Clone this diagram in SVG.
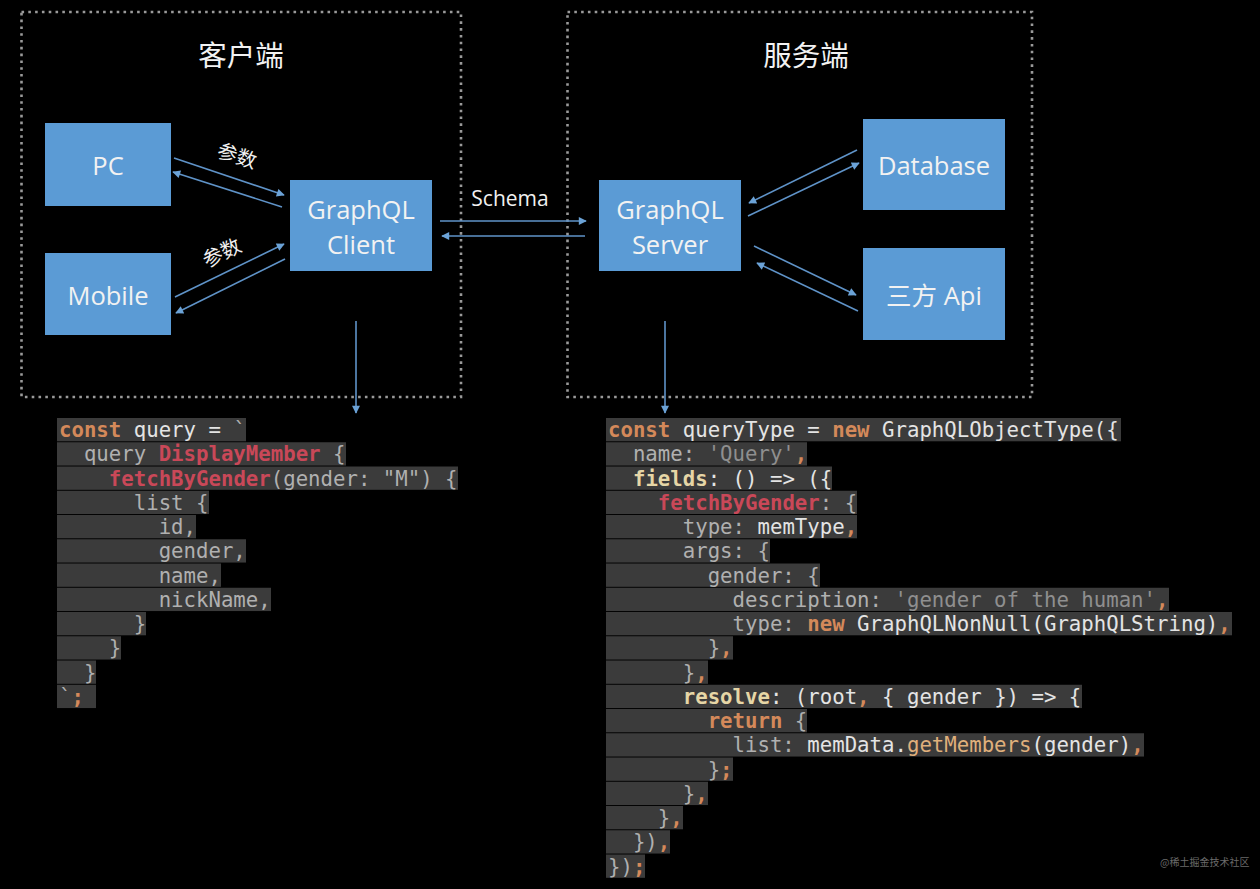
<svg xmlns="http://www.w3.org/2000/svg" width="1260" height="889" viewBox="0 0 1260 889">
<defs>
<style>
.frame{fill:none;stroke:#9a9a9a;stroke-width:2.6;stroke-dasharray:2.6 4.2}
.node rect{fill:#5b9bd5}
.nt{font-family:"Open Sans","Noto Sans","Noto Sans CJK SC",sans-serif;font-size:25.5px;fill:#f2f2f2;text-anchor:middle}
.title{font-family:"Noto Sans CJK SC","Noto Sans",sans-serif;font-size:28.5px;fill:#f2f2f2;text-anchor:middle}
.lbl{font-family:"Open Sans","Noto Sans CJK SC",sans-serif;font-size:21px;fill:#f0f0f0;text-anchor:middle}
.cn{font-family:"Noto Sans CJK SC",sans-serif;font-size:20px;fill:#f0f0f0;text-anchor:middle}
.conn line{stroke:#5f93c8;stroke-width:1.6;fill:none}
.row{fill:#3b3b3b}
.code{font-family:"DejaVu Sans Mono",monospace;font-size:20.7px;fill:#b0b0b0;white-space:pre}
.k{fill:#d4895a;font-weight:bold}
.w{fill:#e4e4e4}
.r{fill:#c94858;font-weight:bold}
.s{fill:#8f8f8f}
.y{fill:#e6d6a6;font-weight:bold}
.o{fill:#e0b07c}
</style>
<marker id="ah" viewBox="0 0 10 10" refX="9" refY="5" markerWidth="10" markerHeight="8" markerUnits="userSpaceOnUse" orient="auto">
<path d="M0,0 L10,5 L0,10 z" fill="#6ba2d6"/>
</marker>
</defs>
<rect x="0" y="0" width="1260" height="889" fill="#000"/>

<g id="client-side">
<rect class="frame" x="21.5" y="12" width="439.5" height="385"/>
<text class="title" x="241" y="66">客户端</text>
</g>
<g id="server-side">
<rect class="frame" x="567.5" y="12" width="464.5" height="385"/>
<text class="title" x="806" y="66">服务端</text>
</g>

<g id="pc" class="node"><rect x="45" y="123" width="126" height="83"/><text class="nt" x="108" y="175">PC</text></g>
<g id="mobile" class="node"><rect x="45" y="253" width="126" height="82"/><text class="nt" x="108" y="305">Mobile</text></g>
<g id="graphql-client" class="node"><rect x="290" y="180" width="142" height="91"/><text class="nt" x="361" y="219">GraphQL</text><text class="nt" x="361" y="254">Client</text></g>
<g id="graphql-server" class="node"><rect x="599" y="180" width="142" height="91"/><text class="nt" x="670" y="219">GraphQL</text><text class="nt" x="670" y="254">Server</text></g>
<g id="database" class="node"><rect x="863" y="119" width="142" height="91"/><text class="nt" x="934" y="175">Database</text></g>
<g id="api" class="node"><rect x="863" y="248" width="142" height="92"/><text class="nt" x="934" y="305">三方 Api</text></g>

<g id="connectors" class="conn">
<line x1="174" y1="158" x2="284" y2="195" marker-end="url(#ah)"/>
<line x1="282" y1="207" x2="173" y2="172" marker-end="url(#ah)"/>
<line x1="175" y1="297" x2="284" y2="244" marker-end="url(#ah)"/>
<line x1="285" y1="259" x2="176" y2="313" marker-end="url(#ah)"/>
<line x1="440" y1="221" x2="586" y2="221" marker-end="url(#ah)"/>
<line x1="585" y1="236" x2="442" y2="236" marker-end="url(#ah)"/>
<line x1="857" y1="150" x2="749" y2="203" marker-end="url(#ah)"/>
<line x1="748" y1="216" x2="859" y2="163" marker-end="url(#ah)"/>
<line x1="754" y1="246" x2="856" y2="295" marker-end="url(#ah)"/>
<line x1="858" y1="311" x2="757" y2="263" marker-end="url(#ah)"/>
<line x1="356" y1="321" x2="356" y2="413" marker-end="url(#ah)"/>
<line x1="665" y1="321" x2="665" y2="413" marker-end="url(#ah)"/>
<text class="cn" x="237" y="163" transform="rotate(18 237 156)">参数</text>
<text class="cn" x="222" y="260" transform="rotate(-26 222 253)">参数</text>
<text class="lbl" x="510" y="206">Schema</text>
</g>

<g id="client-code">
<rect class="row" x="57" y="418" width="189" height="23.3"/>
<rect class="row" x="57" y="442.25" width="289" height="23.3"/>
<rect class="row" x="57" y="466.5" width="401" height="23.3"/>
<rect class="row" x="57" y="490.75" width="152" height="23.3"/>
<rect class="row" x="57" y="515" width="139" height="23.3"/>
<rect class="row" x="57" y="539.25" width="189" height="23.3"/>
<rect class="row" x="57" y="563.5" width="164" height="23.3"/>
<rect class="row" x="57" y="587.75" width="214" height="23.3"/>
<rect class="row" x="57" y="612" width="89" height="23.3"/>
<rect class="row" x="57" y="636.25" width="64" height="23.3"/>
<rect class="row" x="57" y="660.5" width="39" height="23.3"/>
<rect class="row" x="57" y="684.75" width="39" height="23.3"/>
<text class="code" x="59" y="437"><tspan class="k">const</tspan><tspan class="w"> query = </tspan>`</text>
<text class="code" x="59" y="461.25">  query <tspan class="r">DisplayMember</tspan> {</text>
<text class="code" x="59" y="485.5">    <tspan class="r">fetchByGender</tspan>(gender: "M") {</text>
<text class="code" x="59" y="509.75">      list {</text>
<text class="code" x="59" y="534">        id,</text>
<text class="code" x="59" y="558.25">        gender,</text>
<text class="code" x="59" y="582.5">        name,</text>
<text class="code" x="59" y="606.75">        nickName,</text>
<text class="code" x="59" y="631">      }</text>
<text class="code" x="59" y="655.25">    }</text>
<text class="code" x="59" y="679.5">  }</text>
<text class="code" x="59" y="703.75">`<tspan class="k">;</tspan></text>
</g>

<g id="server-code">
<rect class="row" x="606" y="418" width="515" height="23.3"/>
<rect class="row" x="606" y="442.25" width="201" height="23.3"/>
<rect class="row" x="606" y="466.5" width="226" height="23.3"/>
<rect class="row" x="606" y="490.75" width="251" height="23.3"/>
<rect class="row" x="606" y="515" width="251" height="23.3"/>
<rect class="row" x="606" y="539.25" width="164" height="23.3"/>
<rect class="row" x="606" y="563.5" width="214" height="23.3"/>
<rect class="row" x="606" y="587.75" width="563" height="23.3"/>
<rect class="row" x="606" y="612" width="626" height="23.3"/>
<rect class="row" x="606" y="636.25" width="127" height="23.3"/>
<rect class="row" x="606" y="660.5" width="102" height="23.3"/>
<rect class="row" x="606" y="684.75" width="476" height="23.3"/>
<rect class="row" x="606" y="709" width="201" height="23.3"/>
<rect class="row" x="606" y="733.25" width="538" height="23.3"/>
<rect class="row" x="606" y="757.5" width="127" height="23.3"/>
<rect class="row" x="606" y="781.75" width="102" height="23.3"/>
<rect class="row" x="606" y="806" width="77" height="23.3"/>
<rect class="row" x="606" y="830.25" width="64" height="23.3"/>
<rect class="row" x="606" y="854.5" width="39" height="23.3"/>
<text class="code" x="608" y="437"><tspan class="k">const</tspan><tspan class="w"> queryType = </tspan><tspan class="k">new</tspan><tspan class="w"> GraphQLObjectType({</tspan></text>
<text class="code" x="608" y="461.25">  name: <tspan class="s">'Query'</tspan><tspan class="k">,</tspan></text>
<text class="code" x="608" y="485.5">  <tspan class="y">fields</tspan><tspan class="w">: () =&gt; ({</tspan></text>
<text class="code" x="608" y="509.75">    <tspan class="r">fetchByGender</tspan>: {</text>
<text class="code" x="608" y="534">      type: <tspan class="w">memType</tspan><tspan class="k">,</tspan></text>
<text class="code" x="608" y="558.25">      args: {</text>
<text class="code" x="608" y="582.5">        gender: {</text>
<text class="code" x="608" y="606.75">          description: <tspan class="s">'gender of the human'</tspan><tspan class="k">,</tspan></text>
<text class="code" x="608" y="631">          type: <tspan class="k">new</tspan><tspan class="w"> GraphQLNonNull(GraphQLString)</tspan><tspan class="k">,</tspan></text>
<text class="code" x="608" y="655.25">        }<tspan class="k">,</tspan></text>
<text class="code" x="608" y="679.5">      }<tspan class="k">,</tspan></text>
<text class="code" x="608" y="703.75">      <tspan class="y">resolve</tspan><tspan class="w">: (root</tspan><tspan class="k">,</tspan><tspan class="w"> { gender }) =&gt; {</tspan></text>
<text class="code" x="608" y="728">        <tspan class="k">return</tspan> {</text>
<text class="code" x="608" y="752.25">          list: <tspan class="w">memData.</tspan><tspan class="o">getMembers</tspan><tspan class="w">(gender)</tspan><tspan class="k">,</tspan></text>
<text class="code" x="608" y="776.5">        }<tspan class="k">;</tspan></text>
<text class="code" x="608" y="800.75">      }<tspan class="k">,</tspan></text>
<text class="code" x="608" y="825">    }<tspan class="k">,</tspan></text>
<text class="code" x="608" y="849.25">  })<tspan class="k">,</tspan></text>
<text class="code" x="608" y="873.5">})<tspan class="k">;</tspan></text>
</g>

<text x="1160" y="866" style="font-family:'Noto Sans CJK SC',sans-serif;font-size:10px;fill:#6a6a6a">@稀土掘金技术社区</text>
</svg>
